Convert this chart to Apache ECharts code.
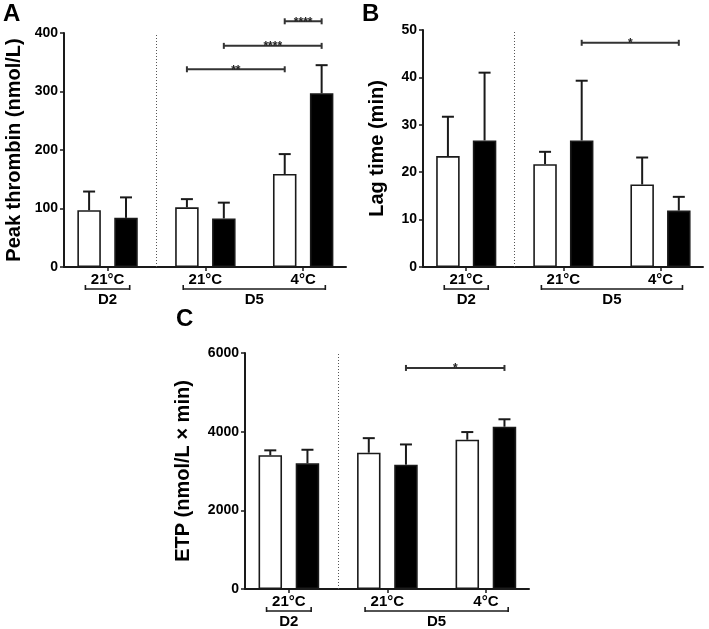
<!DOCTYPE html>
<html><head><meta charset="utf-8">
<script src="https://cdn.jsdelivr.net/npm/echarts@6/dist/echarts.min.js"></script>
<style>html,body{margin:0;padding:0;background:#fff}#c{width:709px;height:629px}</style>
</head><body><div id="c"></div>
<script>
// ---- data ----
const tempLabels = ['21°C', '21°C', '4°C'];
const dayLabels = ['D2', 'D5'];
const dayGroupSpan = [[0, 0], [1, 2]];          // temperature groups under each day
const barFills = ['white', 'black'];             // alternating treatment colour

const peakMean = [97, 84, 102, 83, 159, 297];
const peakSD   = [32, 35, 14, 27, 34, 48];
const peakSigPairs = [[2, 4], [3, 5], [4, 5]];
const peakSigLevel = [338, 378, 420];
const peakSigText  = ['**', '****', '****'];

const lagMean = [23.4, 26.7, 21.7, 26.7, 17.4, 11.9];
const lagSD   = [8.3, 14.3, 2.6, 12.6, 5.7, 2.9];
const lagSigPairs = [[3, 5]];
const lagSigLevel = [47.3];
const lagSigText  = ['*'];

const etpMean = [3400, 3195, 3465, 3160, 3795, 4125];
const etpSD   = [125, 345, 370, 515, 195, 190];
const etpSigPairs = [[3, 5]];
const etpSigLevel = [5620];
const etpSigText  = ['*'];

const yTitles = ['Peak thrombin (nmol/L)', 'Lag time (min)', 'ETP (nmol/L × min)'];
const yMax = [400, 50, 6000];
const yStep = [100, 10, 2000];
const panelLetters = ['A', 'B', 'C'];

// ---- layout helpers ----
const PAIR_STEP = 2.65;
const xOf = i => Math.floor(i / 2) * PAIR_STEP + (i % 2);
const pairCenter = g => g * PAIR_STEP + 0.5;
const sepX = (xOf(1) + xOf(2)) / 2;
const FONT = '"Liberation Sans", Arial, sans-serif';
const INK = '#1a1a1a';

const panels = [
  {mean: peakMean, sd: peakSD, sp: peakSigPairs, sl: peakSigLevel, st: peakSigText,
   grid: {left: 64, top: 33, width: 282, height: 234}, nameGap: 40},
  {mean: lagMean, sd: lagSD, sp: lagSigPairs, sl: lagSigLevel, st: lagSigText,
   grid: {left: 423, top: 30, width: 280, height: 237}, nameGap: 36},
  {mean: etpMean, sd: etpSD, sp: etpSigPairs, sl: etpSigLevel, st: etpSigText,
   grid: {left: 245, top: 353, width: 284, height: 236}, nameGap: 52}
];

const grids = [], xAxes = [], yAxes = [], series = [];
const tickVals = tempLabels.map((t, g) => pairCenter(g));

panels.forEach((p, pi) => {
  grids.push(p.grid);
  xAxes.push({
    type: 'value', gridIndex: pi, min: -0.68, max: 6.96,
    axisLine: {show: true, onZero: false, lineStyle: {color: INK, width: 2}},
    splitLine: {show: false},
    axisTick: {show: true, customValues: tickVals, length: 4, lineStyle: {color: INK, width: 1.5}},
    axisLabel: {show: true, customValues: tickVals, margin: 5, color: '#000',
      fontFamily: FONT, fontWeight: 'bold', fontSize: 15,
      formatter: v => { const g = tickVals.findIndex(t => Math.abs(t - v) < 1e-6); return g >= 0 ? tempLabels[g] : ''; }}
  });
  yAxes.push({
    type: 'value', gridIndex: pi, min: 0, max: yMax[pi], interval: yStep[pi],
    name: yTitles[pi], nameLocation: 'middle', nameGap: p.nameGap, nameRotate: 90,
    nameTextStyle: {fontFamily: FONT, fontWeight: 'bold', fontSize: 20, color: '#000'},
    axisLine: {show: true, onZero: false, lineStyle: {color: INK, width: 2}},
    splitLine: {show: false},
    axisTick: {show: true, length: 4, lineStyle: {color: INK, width: 1.5}},
    axisLabel: {margin: 6, color: '#000', fontFamily: FONT, fontWeight: 'bold', fontSize: 14,
      formatter: v => String(v)}
  });

  // bars
  series.push({
    type: 'bar', xAxisIndex: pi, yAxisIndex: pi, barWidth: 23.5, z: 2,
    data: p.mean.map((v, k) => ({
      value: [xOf(k), v],
      itemStyle: {color: barFills[k % 2] === 'black' ? '#000' : '#fff', borderColor: INK, borderWidth: 1.6}
    })),
    markLine: {
      symbol: 'none', silent: true, label: {show: false},
      lineStyle: {type: [1, 2], color: '#555', width: 1},
      data: [{xAxis: sepX}]
    }
  });

  // error bars (upper SD)
  series.push({
    type: 'custom', xAxisIndex: pi, yAxisIndex: pi, z: 3, clip: false,
    data: p.mean.map((v, k) => [xOf(k), v, v + p.sd[k]]),
    renderItem: (params, api) => {
      const a = api.coord([api.value(0), api.value(1)]);
      const b = api.coord([api.value(0), api.value(2)]);
      const st = {stroke: INK, lineWidth: 2};
      return {type: 'group', children: [
        {type: 'line', shape: {x1: a[0], y1: a[1], x2: b[0], y2: b[1]}, style: st},
        {type: 'line', shape: {x1: b[0] - 6, y1: b[1], x2: b[0] + 6, y2: b[1]}, style: st}
      ]};
    }
  });

  // significance brackets
  series.push({
    type: 'custom', xAxisIndex: pi, yAxisIndex: pi, z: 3, clip: false,
    data: p.sp.map((pr, k) => [xOf(pr[0]), xOf(pr[1]), p.sl[k], k]),
    renderItem: (params, api) => {
      const a = api.coord([api.value(0), api.value(2)]);
      const b = api.coord([api.value(1), api.value(2)]);
      const st = {stroke: '#333', lineWidth: 2};
      return {type: 'group', children: [
        {type: 'line', shape: {x1: a[0], y1: a[1], x2: b[0], y2: b[1]}, style: st},
        {type: 'line', shape: {x1: a[0], y1: a[1] - 3, x2: a[0], y2: a[1] + 3}, style: st},
        {type: 'line', shape: {x1: b[0], y1: b[1] - 3, x2: b[0], y2: b[1] + 3}, style: st},
        {type: 'text', style: {x: (a[0] + b[0]) / 2, y: a[1] + 1, text: p.st[api.value(3)],
          align: 'center', verticalAlign: 'middle', font: 'bold 12px ' + FONT, fill: '#222'}}
      ]};
    }
  });

  // day brackets under the axis
  series.push({
    type: 'custom', xAxisIndex: pi, yAxisIndex: pi, z: 3, clip: false,
    data: dayGroupSpan.map((s, d) => [pairCenter(s[0]) - 0.6, pairCenter(s[1]) + 0.6, d]),
    renderItem: (params, api) => {
      const a = api.coord([api.value(0), 0]);
      const b = api.coord([api.value(1), 0]);
      const y = a[1] + 22;
      const st = {stroke: INK, lineWidth: 1.6};
      return {type: 'group', children: [
        {type: 'line', shape: {x1: a[0], y1: y, x2: b[0], y2: y}, style: st},
        {type: 'line', shape: {x1: a[0], y1: y - 4, x2: a[0], y2: y + 1}, style: st},
        {type: 'line', shape: {x1: b[0], y1: y - 4, x2: b[0], y2: y + 1}, style: st},
        {type: 'text', style: {x: (a[0] + b[0]) / 2, y: y + 11, text: dayLabels[api.value(2)],
          align: 'center', verticalAlign: 'middle', font: 'bold 15px ' + FONT, fill: '#000'}}
      ]};
    }
  });
});

const chart = echarts.init(document.getElementById('c'), null, {renderer: 'canvas'});
chart.setOption({
  animation: false,
  backgroundColor: '#fff',
  title: [
    {text: panelLetters[0], left: 3, top: 2},
    {text: panelLetters[1], left: 362, top: 2},
    {text: panelLetters[2], left: 176, top: 307}
  ].map(t => Object.assign(t, {padding: 0, textStyle: {fontFamily: FONT, fontWeight: 'bold', fontSize: 24, color: '#000'}})),
  grid: grids, xAxis: xAxes, yAxis: yAxes, series: series
});
</script></body></html>
